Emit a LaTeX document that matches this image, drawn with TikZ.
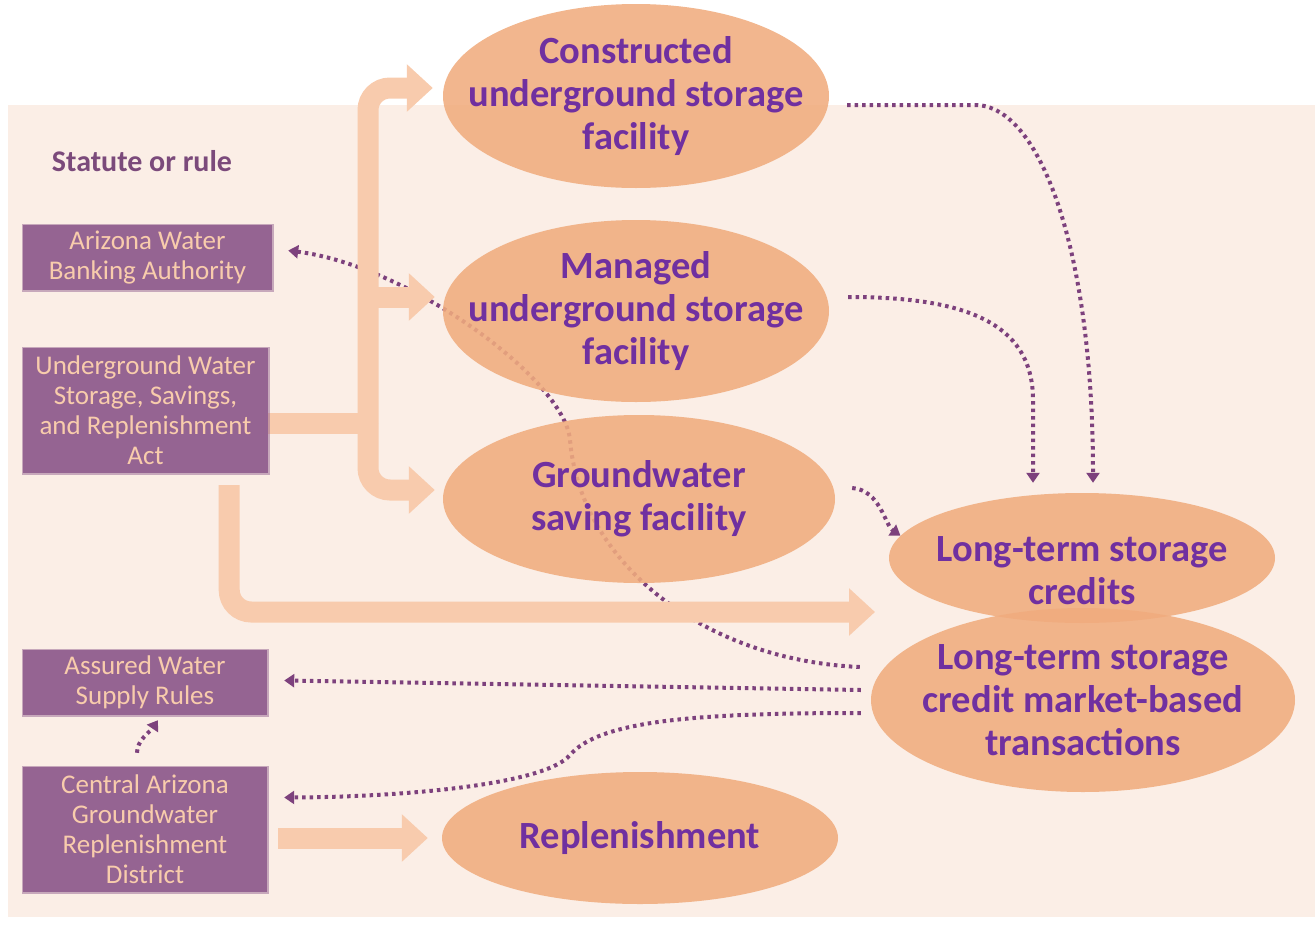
\documentclass[tikz,border=0pt]{standalone}
\usepackage{fontspec}
\setmainfont{Carlito}
\usetikzlibrary{calc,arrows.meta,shapes.geometric}

\definecolor{sheet}{HTML}{FBEEE6}
\definecolor{blobc}{HTML}{F0AC7E}
\definecolor{blobtxt}{HTML}{7030A0}
\definecolor{lawc}{HTML}{956492}
\definecolor{lawtxt}{HTML}{F8CCAC}
\definecolor{fatc}{HTML}{F8CBAD}
\definecolor{dotc}{HTML}{7D417D}
\definecolor{headc}{HTML}{7B4A7B}

\pgfdeclarelayer{bg}
\pgfdeclarelayer{lines}
\pgfsetlayers{bg,lines,main}

\tikzset{
  blob/.style={ellipse,fill=blobc,fill opacity=0.88,inner sep=0pt},
  blobtext/.style={text=blobtxt,font=\fontsize{38.5}{43}\selectfont\bfseries,align=center},
  law/.style={fill=lawc,text=lawtxt,font=\fontsize{27}{30}\selectfont,align=center,inner sep=0pt,
    preaction={draw=lawc,draw opacity=0.5,line width=3pt}},
  fatline/.style={draw=fatc,line width=21pt},
  fat/.style={fatline,-{Triangle[width=46pt,length=26pt]}},
  dots/.style={draw=dotc,line width=4pt,dash pattern=on 3.5pt off 4pt,-{Triangle[width=13pt,length=10pt]}},
}

\begin{document}
\begin{tikzpicture}[x=1pt,y=-1pt]
\useasboundingbox (0,0) rectangle (1315,924);

\begin{pgfonlayer}{bg}
\fill[sheet] (8,105) rectangle (1315,917);
\end{pgfonlayer}

% statutes and rules
\node[font=\fontsize{30}{34}\selectfont\bfseries,text=headc] (head) at (142,161) {Statute or rule};
\node[law,minimum width=249pt,minimum height=65pt] (awba) at (147.5,257.5) {Arizona Water\\Banking Authority};
\node[law,minimum width=245pt,minimum height=125pt] (uwssra) at (145.5,410.5) {Underground Water\\Storage, Savings,\\and Replenishment\\Act};
\node[law,minimum width=244pt,minimum height=65pt] (awsr) at (145,682.5) {Assured Water\\Supply Rules};
\node[law,minimum width=244pt,minimum height=125pt] (cagrd) at (145,829.5) {Central Arizona\\Groundwater\\Replenishment\\District};

% facilities and credits
\node[blob,minimum width=386pt,minimum height=184pt] (cusf) at (636,96) {};
\node[blob,minimum width=386pt,minimum height=182pt] (musf) at (636,311) {};
\node[blob,minimum width=392pt,minimum height=168pt] (gsf) at (639,499) {};
\node[blob,minimum width=386pt,minimum height=130pt] (ltsc) at (1082,558) {};
\node[blob,minimum width=424pt,minimum height=184pt] (mkt) at (1083,700) {};
\node[blob,minimum width=396pt,minimum height=132pt] (rep) at (640,838) {};

\node[blobtext] (cusf-t) at (cusf) {Constructed\\underground storage\\facility};
\node[blobtext] (musf-t) at (musf) {Managed\\underground storage\\facility};
\node[blobtext] (gsf-t) at (gsf) {Groundwater\\saving facility};
\node[blobtext] (ltsc-t) at ($(ltsc)+(0,13)$) {Long-term storage\\credits};
\node[blobtext] (mkt-t) at (mkt) {Long-term storage\\credit market-based\\transactions};
\node[blobtext] (rep-t) at (rep) {Replenishment};

\coordinate (jn) at (368,423);
\coordinate (credin) at (875,612);

\begin{pgfonlayer}{lines}
% dotted links
\draw[dots] ($(cusf.east)+(18,9)$) -- (975,105) .. controls (1040,105) and (1093,250) .. ($(ltsc.north)+(11,-10)$);
\draw[dots] ($(musf.east)+(19,-14)$) .. controls (960,297) and (1033,320) .. (1033,400) -- ($(ltsc.north)+(-49,-10)$);
\draw[dots] ($(gsf.east)+(17,-11)$) .. controls (880,490) and (885,525) .. (ltsc.173);
\draw[dots] ($(mkt.west)+(-11,-33)$) .. controls (700,660) and (580,560) .. (570,440)
  .. controls (565,380) and (410,266) .. ($(awba.east)+(16,-7)$);
\draw[dots] ($(mkt.west)+(-10,-10)$) -- ($(awsr.east)+(17,-2)$);
\draw[dots] ($(mkt.west)+(-10,13)$) .. controls (700,713) and (600,720) .. (570,755)
  .. controls (545,785) and (400,797) .. ($(cagrd.east)+(17,-32)$);
\draw[dots] ($(cagrd.north)+(-8,-14)$) .. controls (137,740) and (150,732) .. ($(awsr.south)+(13,5)$);

% broad arrows
\draw[fatline] ($(uwssra.east)+(0,12.5)$) -- (jn);
\draw[fat,rounded corners=22pt] (jn) |- ($(cusf.west)+(-10,-8)$);
\draw[fat] ($(musf.west)+(-75,-14)$) -- ($(musf.west)+(-8,-14)$);
\draw[fat,rounded corners=22pt] (jn) |- ($(gsf.west)+(-8,-9)$);
\draw[fat,rounded corners=22pt] ($(uwssra.south east)+(-39,12)$) |- (credin);
\draw[fat] ($(cagrd.east)+(11,8.5)$) -- ($(rep.west)+(-14,0)$);
\end{pgfonlayer}

\end{tikzpicture}
\end{document}
